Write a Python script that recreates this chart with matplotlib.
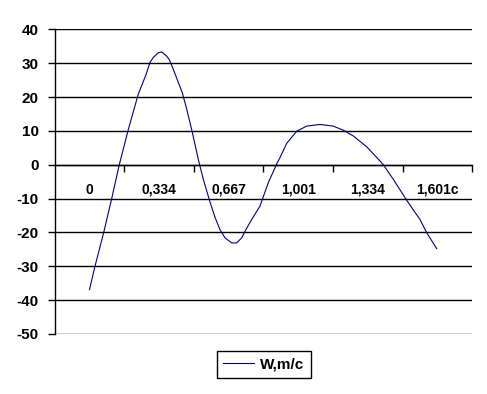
import numpy as np
import matplotlib
matplotlib.use('Agg')
import matplotlib.pyplot as plt

# category axis: labels sit at positions 0..5, curve sampled in between
x_labels = ['0', '0,334', '0,667', '1,001', '1,334', '1,601c']
y_ticks = [-50, -40, -30, -20, -10, 0, 10, 20, 30, 40]

# position along the category axis (label steps) and W value
pos = [0.0, 0.079, 0.208, 0.319, 0.428, 0.558, 0.70, 0.81, 0.869, 0.917,
       0.99, 1.037, 1.109, 1.15, 1.204, 1.276, 1.333, 1.397, 1.468, 1.563,
       1.635, 1.731, 1.803, 1.875, 1.947, 2.043, 2.115, 2.187, 2.244, 2.33,
       2.45, 2.569, 2.698, 2.737, 2.833, 2.977, 3.12, 3.312, 3.503, 3.647,
       3.79, 3.983, 4.174, 4.221, 4.365, 4.557, 4.749, 4.845, 4.989]
w = [-36.9, -30.0, -19.7, -10.0, 0.0, 10.4, 20.8, 26.5, 30.2, 31.7,
     33.1, 33.3, 32.1, 30.9, 28.2, 24.3, 21.3, 16.4, 10.4, 1.6,
     -4.3, -11.0, -15.5, -19.2, -21.6, -23.1, -23.1, -21.6, -19.3, -16.2,
     -12.2, -5.3, 0.6, 2.1, 6.3, 9.9, 11.4, 11.9, 11.4, 10.2,
     8.5, 5.3, 1.1, 0.0, -4.3, -10.5, -16.2, -20.1, -24.8]

plt.rcParams['font.family'] = ['Liberation Sans', 'DejaVu Sans']
plt.rcParams['font.weight'] = 'bold'

fig = plt.figure(figsize=(4.87, 3.94), dpi=100)
ax = fig.add_axes([0.1123, 0.1523, 0.8575, 0.7733])

ax.plot(pos, w, color='#000080', lw=0.8, label='W,m/c')

ax.set_xlim(-0.5, 5.5)
ax.set_ylim(-50, 40)

ax.set_yticks(y_ticks)
ax.set_yticklabels([str(v) for v in y_ticks], fontsize=11, fontweight='bold')
ax.yaxis.grid(True, color='black', lw=1)
ax.set_axisbelow(True)
ax.tick_params(axis='y', length=5, width=1, pad=6.5, color='black')

ax.set_xticks(range(len(x_labels)))
ax.set_xticklabels(x_labels, fontsize=11, fontweight='bold')
ax.set_xticks(np.arange(0.5, 6, 1), minor=True)
ax.tick_params(axis='x', which='major', length=0, pad=13)
ax.tick_params(axis='x', which='minor', length=5, width=1, color='black')

ax.spines['bottom'].set_position(('data', 0))
ax.spines['top'].set_visible(False)
ax.spines['right'].set_visible(False)
ax.spines['left'].set_linewidth(1)
ax.spines['bottom'].set_linewidth(1)

leg = fig.legend(loc='center', bbox_to_anchor=(0.542, 0.075), frameon=True,
                 fancybox=False, edgecolor='black', framealpha=1,
                 prop={'size': 11, 'weight': 'bold'}, handlelength=2.0,
                 borderpad=0.4, handletextpad=0.4)
leg.get_frame().set_linewidth(1)

fig.savefig('out.png', dpi=100)
